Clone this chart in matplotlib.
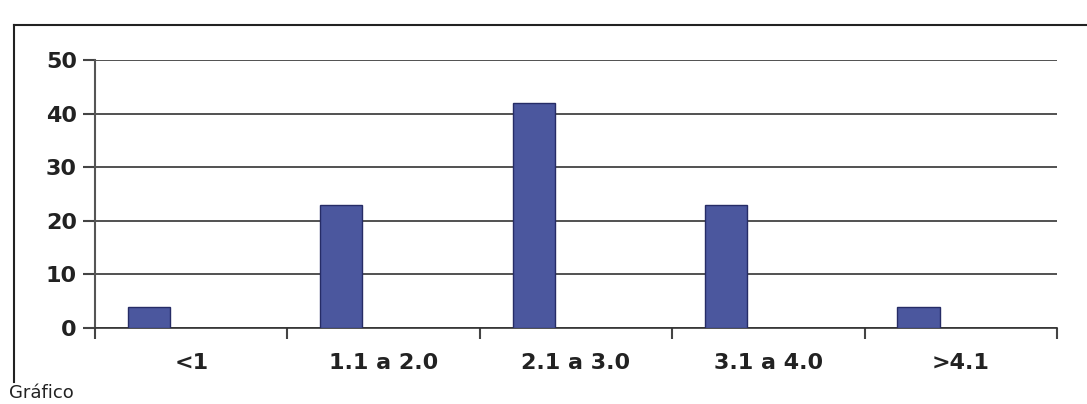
import numpy as np
import matplotlib
matplotlib.use("Agg")
import matplotlib.pyplot as plt
from matplotlib.lines import Line2D

# data
categories = ["<1", "1.1 a 2.0", "2.1 a 3.0", "3.1 a 4.0", ">4.1"]
values = [4, 23, 42, 23, 4]
yticks = [0, 10, 20, 30, 40, 50]

fig = plt.figure(figsize=(10.87, 4.04), dpi=100)
ax = fig.add_axes([95 / 1087, 76 / 404, (1057 - 95) / 1087, (328 - 60) / 404])

x = np.arange(len(categories))
ax.bar(x - 0.22, values, width=0.22, color="#4b579e", edgecolor="#262c66",
       linewidth=1.0, zorder=3)

ax.set_xlim(-0.5, len(categories) - 0.5)
ax.set_ylim(0, 50)
ax.set_yticks(yticks)
ax.set_yticklabels([str(v) for v in yticks], fontsize=16, fontweight="bold", color="#222222")
ax.yaxis.grid(True, color="#333333", linewidth=1.2, zorder=0)
ax.set_axisbelow(True)

# category labels centred, tick marks on the boundaries
ax.set_xticks(np.arange(-0.5, len(categories)), minor=False)
ax.set_xticklabels([])
ax.set_xticks(x, minor=True)
ax.set_xticklabels(categories, minor=True, fontsize=16, fontweight="bold", color="#222222")
ax.tick_params(axis="x", which="minor", length=0, pad=18)
ax.tick_params(axis="x", which="major", length=8, width=1.5, color="#444444", direction="out")
ax.tick_params(axis="y", length=9, width=1.5, color="#444444", pad=4)

for s in ["top", "right"]:
    ax.spines[s].set_visible(False)
ax.spines["left"].set_color("#555555")
ax.spines["left"].set_linewidth(1.5)
ax.spines["bottom"].set_color("#333333")
ax.spines["bottom"].set_linewidth(1.2)

# outer frame of the chart box
fig.add_artist(Line2D([14 / 1087, 14 / 1087], [22 / 404, 379 / 404], color="#222222", lw=1.5))
fig.add_artist(Line2D([14 / 1087, 1.0], [379 / 404, 379 / 404], color="#222222", lw=1.5))

fig.text(0.008, 0.004, "Gráfico", fontsize=13, color="#222222", va="bottom", ha="left")

fig.savefig("out.png", dpi=100, facecolor="white")
